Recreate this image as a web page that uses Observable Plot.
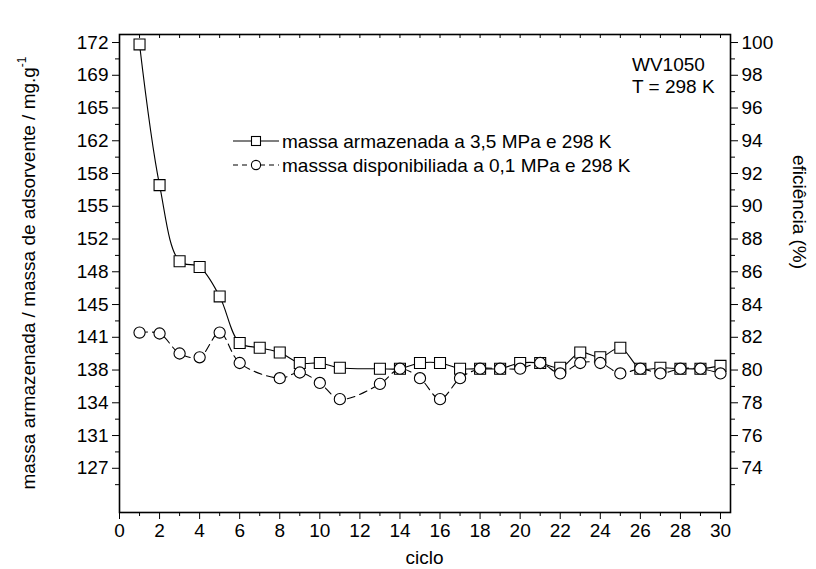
<!DOCTYPE html>
<html><head><meta charset="utf-8">
<script src="https://cdn.jsdelivr.net/npm/d3@7"></script>
<script src="https://cdn.jsdelivr.net/npm/@observablehq/plot@0.6"></script>
<style>body{margin:0;background:#fff} #chart{width:816px;height:569px}</style>
</head><body><div id="chart"></div>
<script>
// ---- data ----
const storedCycles = [1,2,3,4,5,6,7,8,9,10,11,13,14,15,16,17,18,19,20,21,22,23,24,25,26,27,28,29,30];
const storedMass   = [172.0,157.2,149.2,148.6,145.5,140.6,140.1,139.6,138.5,138.5,138.0,137.9,137.9,138.5,138.5,137.9,137.9,137.9,138.5,138.5,138.0,139.6,139.1,140.1,137.9,138.0,137.9,137.9,138.2];
const availCycles  = [1,2,3,4,5,6,8,9,10,11,13,14,15,16,17,18,19,20,21,22,23,24,25,26,27,28,29,30];
const availMass    = [141.7,141.6,139.5,139.1,141.7,138.5,136.9,137.5,136.4,134.7,136.3,137.9,136.9,134.7,136.9,137.9,137.9,137.9,138.5,137.4,138.5,138.5,137.4,137.9,137.4,137.9,137.9,137.4];

// axis ticks
const effTicks      = [74,76,78,80,82,84,86,88,90,92,94,96,98,100];          // right axis (%)
const effTickLabels = ["74","76","78","80","82","84","86","88","90","92","94","96","98","100"];
const massTickLabels= ["127","131","134","138","141","145","148","152","155","158","162","165","169","172"]; // left axis
const effMinor      = [73,75,77,79,81,83,85,87,89,91,93,95,97,99];
const xMajor        = [0,2,4,6,8,10,12,14,16,18,20,22,24,26,28,30];
const xMinor        = [1,3,5,7,9,11,13,15,17,19,21,23,25,27,29];
const xTop          = d3.range(0, 31);

const legendLabels = ["massa armazenada a 3,5 MPa e 298 K", "masssa disponibiliada a 0,1 MPa e 298 K"];
const noteLines    = ["WV1050", "T = 298 K"];
const xTitle = "ciclo";
const yTitle = "massa armazenada / massa de adsorvente / mg.g";
const yTitleSup = "-1";
const y2Title = "eficiência (%)";

// 100 % efficiency corresponds to 172.2 mg/g
const k = 1.722;

const stored = storedCycles.map((c, i) => ({c, m: storedMass[i]}));
const avail  = availCycles.map((c, i) => ({c, m: availMass[i]}));
const leftMap  = new Map(effTicks.map((p, i) => [p * k, massTickLabels[i]]));
const rightMap = new Map(effTicks.map((p, i) => [p * k, effTickLabels[i]]));

const font = "'Liberation Sans', Arial, sans-serif";
const W = 816, H = 569, mT = 34, mR = 86, mB = 57, mL = 119;
const innerH = H - mT - mB;

const plot = Plot.plot({
  width: W, height: H,
  marginTop: mT, marginRight: mR, marginBottom: mB, marginLeft: mL,
  style: {fontFamily: font, fontSize: "19px", color: "#000", background: "#fff", overflow: "visible"},
  x: {domain: [0, 30.5]},
  y: {domain: [71.3 * k, 100.49 * k]},
  marks: [
    Plot.axisX({ticks: xMajor, tickSize: 7, tickPadding: 4, tickFormat: d => String(d), label: null, fontSize: 19}),
    Plot.axisX({ticks: xMinor, tickSize: 4, text: null, label: null}),
    Plot.tickX(xTop, {x: d => d, insetBottom: innerH - 4, stroke: "#000"}),
    Plot.axisY({anchor: "left", ticks: effTicks.map(p => p * k), tickFormat: d => leftMap.get(d), tickSize: 7, tickPadding: 4, label: null, fontSize: 19}),
    Plot.axisY({anchor: "left", ticks: effMinor.map(p => p * k), tickSize: 4, text: null, label: null}),
    Plot.axisY({anchor: "right", ticks: effTicks.map(p => p * k), tickFormat: d => rightMap.get(d), tickSize: 7, tickPadding: 4, label: null, fontSize: 19}),
    Plot.axisY({anchor: "right", ticks: effMinor.map(p => p * k), tickSize: 4, text: null, label: null}),
    Plot.line(stored, {x: "c", y: "m", curve: "catmull-rom", stroke: "#000", strokeWidth: 1.1}),
    Plot.dot(stored, {x: "c", y: "m", symbol: "square", r: 6.2, fill: "#fff", stroke: "#000", strokeWidth: 1.1}),
    Plot.line(avail, {x: "c", y: "m", curve: "catmull-rom", stroke: "#000", strokeWidth: 1.1, strokeDasharray: "8,5"}),
    Plot.dot(avail, {x: "c", y: "m", symbol: "circle", r: 5.6, fill: "#fff", stroke: "#000", strokeWidth: 1.1}),
    Plot.frame({stroke: "#000", strokeWidth: 1.6})
  ]
});

// annotations, legend and axis titles
const svg = d3.select(plot);
const g = svg.append("g").attr("font-family", font).attr("font-size", 19).attr("fill", "#000").attr("text-anchor", "start");

// legend
const legY = [141, 165];
const lg = g.append("g");
lg.append("line").attr("x1", 233).attr("x2", 279).attr("y1", legY[0]).attr("y2", legY[0]).attr("stroke", "#000").attr("stroke-width", 1.1);
lg.append("rect").attr("x", 251.5).attr("y", legY[0] - 4.5).attr("width", 9).attr("height", 9).attr("fill", "#fff").attr("stroke", "#000").attr("stroke-width", 1.1);
lg.append("line").attr("x1", 233).attr("x2", 279).attr("y1", legY[1]).attr("y2", legY[1]).attr("stroke", "#000").attr("stroke-width", 1.1).attr("stroke-dasharray", "5,4");
lg.append("circle").attr("cx", 256).attr("cy", legY[1]).attr("r", 4.6).attr("fill", "#fff").attr("stroke", "#000").attr("stroke-width", 1.1);
legendLabels.forEach((t, i) => {
  lg.append("text").attr("x", 282).attr("y", legY[i]).attr("dy", "0.35em").attr("text-anchor", "start").text(t);
});

// note
noteLines.forEach((t, i) => {
  g.append("text").attr("x", 632).attr("y", 64 + i * 22).attr("dy", "0.35em").attr("text-anchor", "start").text(t);
});

// x title
g.append("text").attr("x", (mL + W - mR) / 2).attr("y", 557).attr("dy", "0.35em").attr("text-anchor", "middle").text(xTitle);

// left title
const lt = g.append("text").attr("transform", `translate(28,${mT + innerH / 2}) rotate(-90)`).attr("text-anchor", "middle").attr("dy", "0.35em");
lt.append("tspan").text(yTitle);
lt.append("tspan").attr("font-size", 12).attr("dy", "-0.75em").text(yTitleSup);

// right title
g.append("text").attr("transform", `translate(800,212) rotate(90)`).attr("text-anchor", "middle").attr("dy", "0.35em").text(y2Title);

document.getElementById("chart").appendChild(plot);
</script>
</body></html>
